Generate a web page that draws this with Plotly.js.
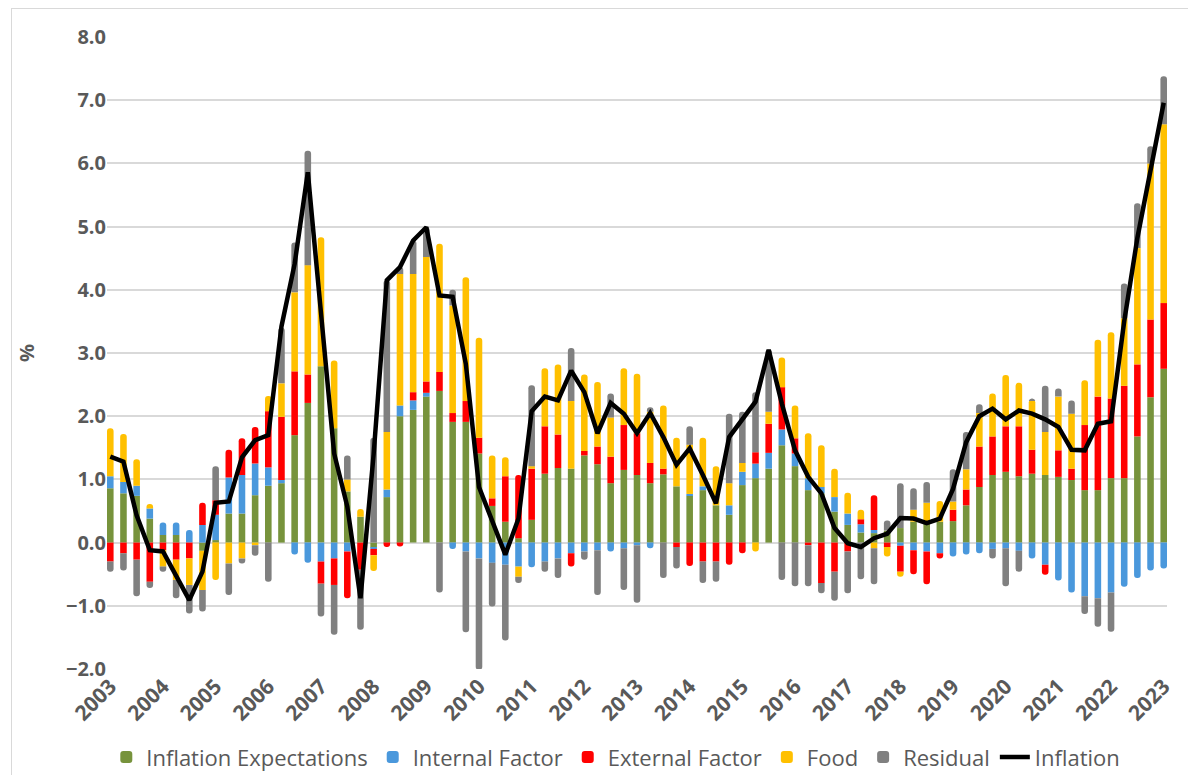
<!DOCTYPE html>
<html>
<head>
<meta charset="utf-8">
<script src="https://cdn.plot.ly/plotly-3.0.1.min.js"></script>
<style>
  html, body { margin:0; padding:0; background:#fff; }
  #frame { position:absolute; left:11px; top:8px; width:1200px; height:800px; border:1px solid #d9d9d9; }
  #chart { position:absolute; left:0; top:0; width:1188px; height:775px; }
</style>
</head>
<body>
<div id="frame"></div>
<div id="chart"></div>
<script>
// quarterly contributions to inflation, 2003Q1 .. 2023Q1
const yearLabels = ['2003','2004','2005','2006','2007','2008','2009','2010','2011','2012','2013',
  '2014','2015','2016','2017','2018','2019','2020','2021','2022','2023'];

const expectations = [
  0.86,0.78,0.74,0.38,0.12,0.12,0.0,-0.13,0.04,0.46,
  0.46,0.75,0.90,0.94,1.70,2.21,2.79,1.81,0.81,0.41,
  -0.08,0.72,2.00,2.10,2.31,2.40,1.91,1.91,1.41,0.58,
  0.33,0.07,0.36,1.09,1.18,1.17,1.38,1.24,0.94,1.15,
  1.07,0.94,1.08,0.89,0.74,0.83,0.59,0.44,0.91,1.02,
  1.17,1.54,1.21,0.83,0.78,0.49,0.28,0.16,0.15,0.19,
  0.23,0.33,0.31,0.33,0.34,0.59,0.88,1.07,1.12,1.05,
  1.09,1.07,1.04,0.99,0.83,0.83,1.02,1.02,1.68,2.30,
  2.75];

const internalF = [
  0.19,0.18,0.16,0.16,0.20,0.20,0.20,0.28,0.40,0.57,
  0.61,0.50,0.29,0.05,-0.19,-0.32,-0.30,-0.25,-0.14,0,
  -0.02,0.12,0.17,0.15,0.06,0,-0.10,-0.14,-0.25,-0.32,
  -0.35,-0.38,-0.39,-0.30,-0.25,-0.17,-0.14,-0.12,-0.14,-0.09,
  -0.04,-0.09,0,0,0.03,0.06,0,0.15,0.21,0.23,
  0.25,0.25,0.20,0.19,0.10,0.23,0.18,0.13,0.05,0,
  -0.05,-0.12,-0.14,-0.17,-0.22,-0.19,-0.17,-0.10,-0.09,-0.13,
  -0.25,-0.35,-0.60,-0.79,-0.85,-0.88,-0.79,-0.70,-0.56,-0.44,
  -0.41];

const externalF = [
  -0.30,-0.17,-0.27,-0.62,-0.12,-0.27,-0.25,0.35,0.23,0.44,
  0.58,0.58,0.89,1.00,1.01,0.45,-0.35,-0.42,-0.74,-0.43,
  -0.10,-0.07,-0.06,0.13,0.18,0.30,0.14,0.33,0.25,0.12,
  0.72,1.00,0.81,0.75,0.53,-0.21,0.07,0.28,0.42,0.71,
  0.66,0.32,0.09,-0.07,-0.37,-0.30,-0.30,-0.35,-0.17,0.18,
  0.46,0.67,0.24,-0.04,-0.64,-0.46,-0.14,0.08,0.55,-0.07,
  -0.41,-0.38,-0.52,-0.08,0.18,0.25,0.64,0.61,0.72,0.79,
  0.38,-0.16,0.42,0.18,1.03,1.48,1.26,1.46,1.14,1.23,
  1.04];

const food = [
  0.76,0.76,0.42,0.07,-0.26,-0.32,-0.42,-0.62,-0.59,-0.33,
  -0.25,-0.04,0.24,0.53,1.25,1.73,2.04,1.07,0.19,0.12,
  -0.25,0.91,2.08,1.87,1.97,2.03,1.70,1.96,1.58,0.68,
  0.30,-0.16,0.04,0.92,1.11,1.07,1.21,1.02,0.62,0.90,
  0.94,0.81,1.00,0.77,0.78,0.77,0.62,0.35,0.14,-0.14,
  0.19,0.47,0.52,0.71,0.66,0.45,0.33,0.15,-0.09,-0.15,
  -0.08,0.19,0.32,0.33,0.13,0.32,0.53,0.68,0.81,0.69,
  0.78,0.68,0.85,0.87,0.71,0.90,1.05,1.07,1.84,2.47,
  2.83];

const residual = [
  -0.16,-0.27,-0.58,-0.10,-0.08,-0.29,-0.45,-0.34,0.54,-0.50,
  -0.08,-0.17,-0.62,0.88,0.79,1.81,-0.52,-0.79,0.38,-0.95,
  1.66,2.40,0.11,0.53,0.47,-0.79,0.25,-1.28,-1.76,-0.69,
  -1.20,-0.10,1.28,-0.16,-0.31,0.84,-0.13,-0.71,0.38,-0.66,
  -0.91,0.07,-0.56,-0.34,0.29,-0.34,-0.32,1.10,0.81,0.95,
  0.98,-0.59,-0.69,-0.65,-0.16,-0.46,-0.66,-0.58,-0.57,0.16,
  0.71,0.34,0.33,0,0.51,0.59,0.14,-0.15,-0.60,-0.33,
  0.03,0.73,0.13,0.21,-0.28,-0.45,-0.62,0.55,0.71,0.27,
  0.76];

const inflation = [
  1.36,1.28,0.43,-0.12,-0.14,-0.54,-0.91,-0.46,0.63,0.65,
  1.35,1.62,1.70,3.42,4.41,5.86,3.60,1.41,0.57,-0.88,
  1.40,4.15,4.36,4.78,4.99,3.91,3.89,2.83,0.88,0.36,
  -0.19,0.38,2.08,2.31,2.25,2.72,2.38,1.73,2.21,2.04,
  1.73,2.05,1.67,1.23,1.49,1.07,0.62,1.67,1.94,2.23,
  3.05,2.20,1.46,1.04,0.78,0.23,-0.01,-0.07,0.07,0.14,
  0.39,0.38,0.31,0.38,0.85,1.59,2.00,2.12,1.95,2.09,
  2.04,1.95,1.83,1.47,1.46,1.88,1.92,3.50,4.82,5.85,
  6.96];

const quarters = inflation.map((_, i) => i);
const yearTicks = yearLabels.map((_, i) => i * 4);

const xFont = {family:'Open Sans, sans-serif', size:21, color:'#595959', weight:'bold'};
const yFont = {family:'Open Sans, sans-serif', size:20, color:'#595959', weight:'bold'};

const series = [
  {name:'Inflation Expectations', y:expectations, color:'#77933c'},
  {name:'Internal Factor', y:internalF, color:'#4a98dc'},
  {name:'External Factor', y:externalF, color:'#ff0000'},
  {name:'Food', y:food, color:'#ffc000'},
  {name:'Residual', y:residual, color:'#808080'}
];

const traces = series.map(s => ({
  type:'bar', name:s.name, x:quarters, y:s.y, width:0.5,
  marker:{color:s.color, line:{width:0}}, hoverinfo:'x+y+name'
}));
traces.push({
  type:'scatter', mode:'lines', name:'Inflation', x:quarters, y:inflation,
  line:{color:'#000000', width:4.5}
});

const layout = {
  width:1188, height:775,
  margin:{l:107, r:21, t:37, b:106},
  paper_bgcolor:'rgba(0,0,0,0)', plot_bgcolor:'rgba(0,0,0,0)',
  barmode:'relative', barcornerradius:3,
  font:{family:'Open Sans, sans-serif', color:'#595959'},
  xaxis:{range:[-0.25, 80.25], tickvals:yearTicks, ticktext:yearLabels, tickangle:-45,
    tickfont:xFont, showgrid:false, zeroline:false, showline:false, ticks:'', automargin:false},
  yaxis:{range:[-2, 8], dtick:1, tickformat:'.1f', tickfont:yFont, automargin:false,
    gridcolor:'#d9d9d9', gridwidth:1.5, zeroline:true, zerolinecolor:'#d9d9d9', zerolinewidth:1.5,
    ticks:'', ticklabelstandoff:0,
    title:{text:'%', font:yFont, standoff:25}},
  legend:{orientation:'h', x:0.48, xanchor:'center', yref:'container', y:0.023, yanchor:'middle',
    font:{family:'Open Sans, sans-serif', size:22, color:'#595959'}, itemwidth:30, traceorder:'normal'},
  showlegend:true
};

Plotly.newPlot('chart', traces, layout, {displayModeBar:false});
</script>
</body>
</html>
